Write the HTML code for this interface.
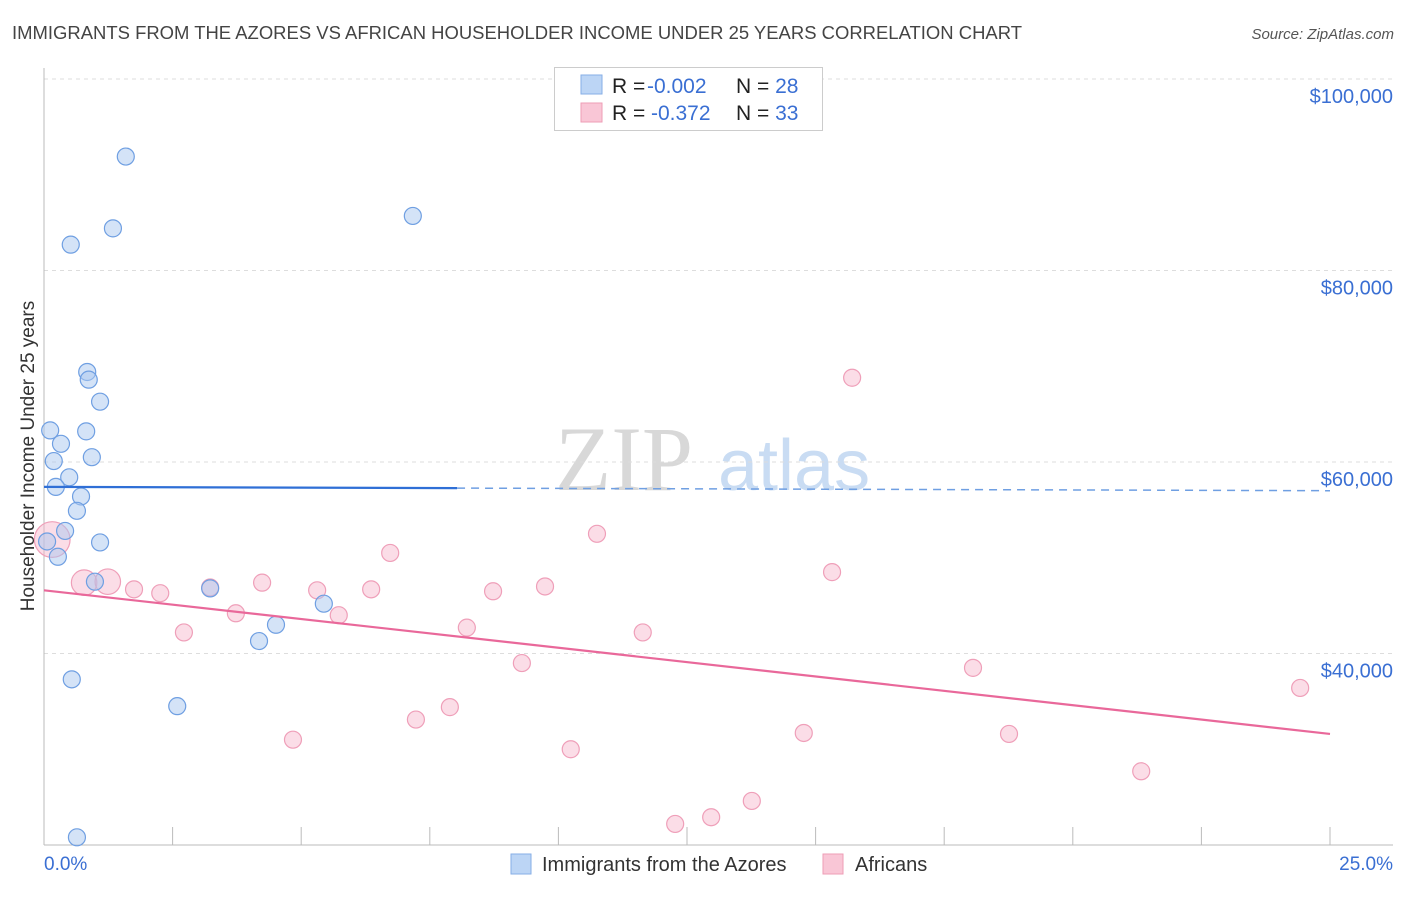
<!DOCTYPE html>
<html><head><meta charset="utf-8"><style>
body{margin:0;background:#fff;font-family:"Liberation Sans",sans-serif;}
</style></head><body>
<svg id="chart" width="1406" height="892" xmlns="http://www.w3.org/2000/svg">
<text x="12" y="39" font-size="18" fill="#444" textLength="1010" lengthAdjust="spacingAndGlyphs">IMMIGRANTS FROM THE AZORES VS AFRICAN HOUSEHOLDER INCOME UNDER 25 YEARS CORRELATION CHART</text>
<text x="1394" y="39" font-size="15" fill="#555" font-style="italic" text-anchor="end">Source: ZipAtlas.com</text>
<g>
<text x="555" y="490" font-size="92" fill="#d8d8d8" font-family="Liberation Serif,serif">ZIP</text>
<text x="718" y="490" font-size="72" fill="#c9dcf3">atlas</text>
</g>
<g id="grid"></g>
<g id="axes"></g>
<g id="marks"></g>
<text x="34" y="456" font-size="19" fill="#333" text-anchor="middle" transform="rotate(-90 34 456)">Householder Income Under 25 years</text>
<g>
<rect x="554.5" y="67.5" width="268" height="63" fill="#fff" stroke="#ccc"/>
<rect x="581" y="75" width="21" height="19" fill="#bcd5f5" stroke="#86aee6"/>
<rect x="581" y="103" width="21" height="19" fill="#f9c6d6" stroke="#ee9db6"/>
<text x="612" y="93" font-size="21" fill="#222">R = <tspan fill="#3a6fd3" x="647">-0.002</tspan><tspan x="736">N = </tspan><tspan fill="#3a6fd3">28</tspan></text>
<text x="612" y="120" font-size="21" fill="#222">R = <tspan fill="#3a6fd3" x="651">-0.372</tspan><tspan x="736">N = </tspan><tspan fill="#3a6fd3">33</tspan></text>
</g>
<g>
<rect x="511" y="854" width="20" height="20" fill="#bcd5f5" stroke="#86aee6"/>
<text x="542" y="871" font-size="20" fill="#333">Immigrants from the Azores</text>
<rect x="823" y="854" width="20" height="20" fill="#f9c6d6" stroke="#ee9db6"/>
<text x="855" y="871" font-size="20" fill="#333">Africans</text>
</g>
</svg>
<script>
const xTickVals=[0,2.5,5,7.5,10,12.5,15,17.5,20,22.5,25];
const yTickVals=[40000,60000,80000,100000];
const yTickLabels=["$40,000","$60,000","$80,000","$100,000"];
const azoresX=[1.59,1.34,0.52,7.17,0.84,0.87,1.09,0.12,0.82,0.33,0.93,0.19,0.49,0.23,0.72,0.64,0.41,1.09,0.06,0.27,0.99,3.23,5.44,4.51,4.18,0.54,2.59,0.64];
const azoresY=[91900,84400,82700,85700,69400,68600,66300,63300,63200,61900,60500,60100,58400,57400,56400,54900,52800,51600,51700,50100,47500,46800,45200,43000,41300,37300,34500,20800];
const africansX=[0.16,0.78,1.24,1.75,2.26,2.72,3.23,3.73,4.24,4.84,5.31,5.73,6.36,6.73,7.23,7.89,8.22,8.73,9.29,9.74,10.24,10.75,11.64,12.27,12.97,13.76,14.77,15.32,15.71,18.06,18.76,21.33,24.42];
const africansY=[51900,47400,47500,46700,46300,42200,46900,44200,47400,31000,46600,44000,46700,50500,33100,34400,42700,46500,39000,47000,30000,52500,42200,22200,22900,24600,31700,48500,68800,38500,31600,27700,36400];
const africansSize=[2.1,1.5,1.5,1,1,1,1,1,1,1,1,1,1,1,1,1,1,1,1,1,1,1,1,1,1,1,1,1,1,1,1,1,1];
const azoresTrend=[57400,57000];
const africansTrend=[46600,31600];
const solidEnd=8.03;
const NS="http://www.w3.org/2000/svg";
const sx=v=>44+v*51.44;
const sy=v=>79+(100000-v)/104.44;
function mk(tag,attrs,parent){const e=document.createElementNS(NS,tag);for(const k in attrs)e.setAttribute(k,attrs[k]);parent.appendChild(e);return e;}
const grid=document.getElementById('grid'),axes=document.getElementById('axes'),marks=document.getElementById('marks');
yTickVals.forEach((v,i)=>{
 const l=mk('line',{x1:44,x2:1393,y1:sy(v),y2:sy(v),stroke:'#ddd','stroke-dasharray':'4,4'},grid);
 
 
 const t=mk('text',{x:1393,y:sy(v)+24,'font-size':20,fill:'#3a6fd3','text-anchor':'end'},axes);
 t.textContent=yTickLabels[i];
 
 
});
const ya=mk('line',{x1:44,x2:44,y1:68,y2:845,stroke:'#bbb'},axes);


const xa=mk('line',{x1:44,x2:1393,y1:845,y2:845,stroke:'#bbb'},axes);


xTickVals.forEach(v=>{
 const t=mk('line',{x1:sx(v),x2:sx(v),y1:827,y2:845,stroke:'#bbb'},axes);
 
 
});
const xl0=mk('text',{x:44,y:870,'font-size':19,fill:'#3a6fd3'},axes);xl0.textContent='0.0%';


const xl1=mk('text',{x:1393,y:870,'font-size':19,fill:'#3a6fd3','text-anchor':'end'},axes);xl1.textContent='25.0%';


africansX.forEach((x,i)=>{
 const c=mk('circle',{cx:sx(x),cy:sy(africansY[i]),r:8.5*africansSize[i],fill:'rgba(246,180,202,0.45)',stroke:'#ef9fb9','stroke-width':1.2},marks);
 
 
});
azoresX.forEach((x,i)=>{
 const c=mk('circle',{cx:sx(x),cy:sy(azoresY[i]),r:8.5,fill:'rgba(170,200,240,0.5)',stroke:'#6f9fe2','stroke-width':1.2},marks);
 
 
});
const ay=x=>azoresTrend[0]+(azoresTrend[1]-azoresTrend[0])*x/25;
const t1=mk('line',{x1:sx(0),y1:sy(ay(0)),x2:sx(solidEnd),y2:sy(ay(solidEnd)),stroke:'#2f6fd6','stroke-width':2.2},marks);


const t2=mk('line',{x1:sx(solidEnd),y1:sy(ay(solidEnd)),x2:sx(25),y2:sy(ay(25)),stroke:'#6f9fe2','stroke-width':1.5,'stroke-dasharray':'8,6'},marks);


const t3=mk('line',{x1:sx(0),y1:sy(africansTrend[0]),x2:sx(25),y2:sy(africansTrend[1]),stroke:'#e9689a','stroke-width':2.2},marks);


</script>
</body></html>
